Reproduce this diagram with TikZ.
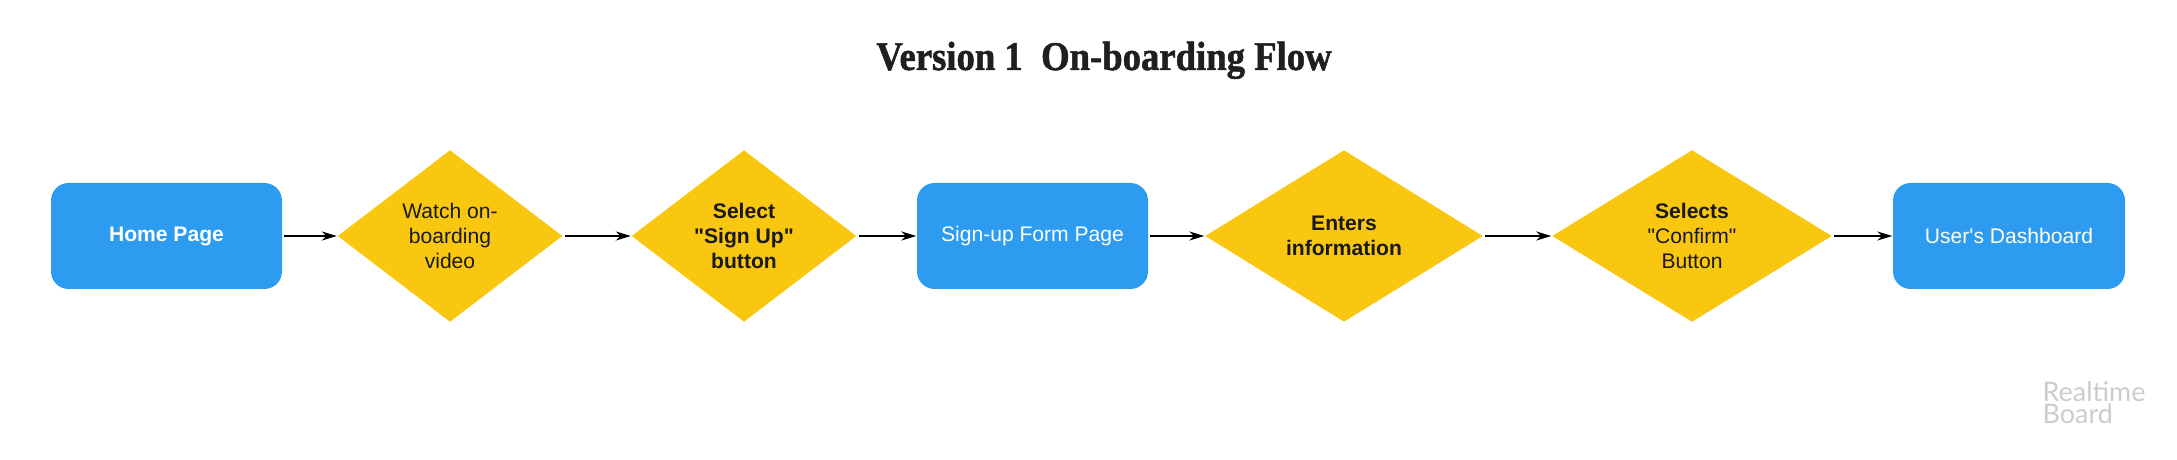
\documentclass[tikz,border=0pt]{standalone}
\usepackage{fontspec}
\setmainfont{Liberation Sans}
\newfontfamily\titlefont[FakeStretch=0.9,FakeBold=1.2]{Liberation Serif}
\newfontfamily\markfont{Lato}
\usetikzlibrary{shapes.geometric,arrows.meta}
\definecolor{pgblue}{HTML}{2D9BF0}
\definecolor{dmyellow}{HTML}{FAC710}
\newcommand{\nodefs}{\fontsize{6}{7}\selectfont}
\tikzset{
  pg/.style={rectangle,rounded corners=5pt,fill=pgblue,text=white,minimum width=2.31cm,minimum height=1.06cm,inner sep=0pt,font=\nodefs},
  dm/.style={diamond,fill=dmyellow,minimum height=1.72cm,inner sep=0pt,align=center,text=black!90,font=\nodefs},
  ar/.style={-{Stealth[length=4.3pt,width=2.6pt]},line width=0.35pt,shorten <=0.5pt}
}

\begin{document}
\begin{tikzpicture}
\useasboundingbox (0,0) rectangle (21.77,4.59);
\node[font=\titlefont\bfseries\fontsize{11.6}{13}\selectfont,text=black!88,anchor=base,inner sep=0pt] (title) at (11.04,3.89) {Version 1\ \ On-boarding Flow};
\node[pg,font=\nodefs\bfseries] (home) at (1.665,2.23) {Home Page};
\node[dm,minimum width=2.25cm] (watch) at (4.50,2.23) {Watch on-\\boarding\\video};
\node[dm,minimum width=2.25cm,font=\nodefs\bfseries] (signup) at (7.44,2.23) {Select\\\textquotedbl Sign Up\textquotedbl\\button};
\node[pg] (form) at (10.325,2.23) {Sign-up Form Page};
\node[dm,minimum width=2.78cm,font=\nodefs\bfseries] (enter) at (13.44,2.23) {Enters\\information};
\node[dm,minimum width=2.80cm] (confirm) at (16.92,2.23) {\textbf{Selects}\\\textquotedbl Confirm\textquotedbl\\Button};
\node[pg,minimum width=2.32cm] (dash) at (20.09,2.23) {User\textquotesingle s Dashboard};
\node[font=\markfont\fontsize{7.65}{6.35}\selectfont,text=black!20,align=left,anchor=north west,inner sep=0pt] (rtb) at (20.42,0.78) {Realtime\\Board};
\foreach \a/\b in {home/watch,watch/signup,signup/form,form/enter,enter/confirm,confirm/dash}{\draw[ar] (\a)--(\b);}
\end{tikzpicture}
\end{document}
